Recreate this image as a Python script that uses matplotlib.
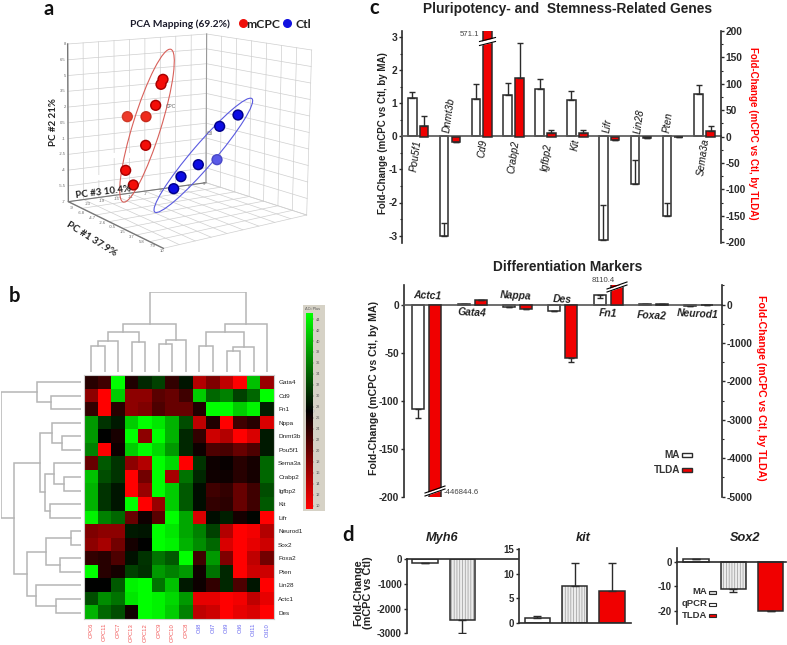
import numpy as np
import matplotlib
matplotlib.use('Agg')
import matplotlib.pyplot as plt
from matplotlib.colors import LinearSegmentedColormap, Normalize
from matplotlib.cm import ScalarMappable
from matplotlib.patches import Ellipse, Rectangle
from matplotlib.ticker import MultipleLocator

W, H = 787, 645
plt.rcParams['font.family'] = ['Liberation Sans', 'DejaVu Sans']
plt.rcParams['hatch.linewidth'] = 0.5

# a: PCA points as seen on the projected picture
pca_red_x = [489, 483, 467, 438, 382, 437, 377, 400]
pca_red_y = [238, 253, 316, 350, 350, 436, 511, 555]
pca_blue_x = [714, 659, 651, 595, 543, 521]
pca_blue_y = [345, 379, 479, 494, 530, 566]

# b: heatmap, -1 red to +1 green
genes = ['Gata4', 'Cd9', 'Fn1', 'Nppa', 'Dnmt3b', 'Pou5f1', 'Sema3a', 'Crabp2', 'Igfbp2',
         'Kit', 'Lifr', 'Neurod1', 'Sox2', 'Foxa2', 'Pten', 'Lin28', 'Actc1', 'Des']
samples = ['CPC6', 'CPC11', 'CPC7', 'CPC13', 'CPC12', 'CPC9', 'CPC10', 'CPC8',
           'Ctl8', 'Ctl7', 'Ctl9', 'Ctl6', 'Ctl11', 'Ctl10']
heat = [
    [-.15, -.25, 1, -.12, .15, .25, -.2, .08, -.7, -.5, -.75, -1, .75, -.6],
    [-.55, -1, .8, -.55, -.55, -.35, -.4, -.25, .8, .4, .5, .25, .4, 1],
    [-.2, -1, -.15, -.55, -.5, -.3, -.4, -.4, -.12, 1, 1, .8, .95, .12],
    [.6, .2, .1, .8, 1, .9, .7, .3, -.75, -.12, -1, -.25, -.15, -.85],
    [.6, 0, -.1, 1, -.55, 1, .7, .15, -.2, -.8, -.7, -1, -.85, .1],
    [.5, -1, -.05, .8, 1, .85, .6, .15, -.05, -.3, -.28, -.4, -.3, .1],
    [-.4, .35, .2, -.55, -.7, 1, .85, -1, .2, -.05, -.03, -.15, -.08, .4],
    [.75, .3, .2, -1, -.45, 1, -.65, .45, .15, -.06, -.05, -.15, -.08, .4],
    [.7, .2, .08, -1, -.6, 1, .8, .35, .05, -.25, -.2, -.4, -.25, .3],
    [.7, .2, .08, 1, -1, -.6, .8, .35, .05, -.2, -.17, -.4, -.25, .35],
    [.95, .5, .4, -.4, -.06, -.35, 1, .65, -.85, .05, .12, -.08, .02, -1],
    [-.5, -.55, -.55, .1, .08, 1, .9, .65, .5, .25, -.7, -1, -.95, -.7],
    [-.55, -.65, -.45, -.08, 0, 1, .95, .7, .55, .4, -.85, -1, -.9, -.8],
    [-.2, -.15, -.3, .07, .2, .45, .35, 1, -.25, .6, -.5, -1, -.75, -.45],
    [1, -.15, -.08, .25, .18, .6, .5, .6, -.07, .45, .15, -1, -.8, -.8],
    [0, 0, .35, .95, 1, .45, .75, .1, -.05, -.2, .15, -.3, .08, -1],
    [.3, .55, .45, .9, 1, .95, .85, .6, -.9, -.9, -1, -.95, -.75, -.9],
    [.7, .4, .3, -.07, 1, .95, .8, .5, -.75, -.8, -1, -.9, -.85, -1],
]
# dendrograms: (child, child, height); children >= n are earlier merges
col_merges = [(0, 1, 26), (14, 2, 31), (3, 4, 30), (15, 16, 40), (5, 6, 28), (18, 7, 32),
              (17, 19, 48), (8, 9, 26), (10, 11, 21), (22, 12, 25), (21, 23, 40),
              (24, 13, 48), (20, 25, 80)]
row_merges = [(1, 2, 30), (0, 18, 44), (4, 5, 19), (3, 20, 29), (7, 8, 17), (6, 22, 27),
              (9, 10, 31), (23, 24, 36), (21, 25, 41), (11, 12, 10), (13, 14, 21),
              (27, 28, 35), (16, 17, 25), (15, 30, 45), (29, 31, 54), (26, 32, 67),
              (19, 33, 80)]

# c: pluripotency genes
c_genes = ['Pou5f1', 'Dnmt3b', 'Cd9', 'Crabp2', 'Igfbp2', 'Kit', 'Lifr', 'Lin28', 'Pten', 'Sema3a']
c_ma = [1.17, -3.0, 1.13, 1.24, 1.44, 1.09, -3.13, -1.45, -2.4, 1.28]
c_ma_tip = [1.33, -2.63, 1.58, 1.6, 1.73, 1.36, -2.08, -0.71, -2.0, 1.55]
c_tlda = [20, -11, 571.1, 110, 7, 6, -7, -3, -1, 11]
c_tlda_tip = [39, -11, 571.1, 178, 13, 12, -7, -3, -1, 20]

# c: differentiation markers
m_genes = ['Actc1', 'Gata4', 'Nappa', 'Des', 'Fn1', 'Foxa2', 'Neurod1']
m_ma = [-109, 1, -2.5, -6.5, 10, 1, -1]
m_ma_tip = [-118, 1, -2.5, -7, 7, 1, -1]
m_tlda = [-446844.6, 130, -100, -1380, 8110.4, 20, -20]
m_tlda_tip = [-446844.6, 130, -100, -1480, 8110.4, 20, -20]

# d
myh6_vals = [-170, -2450]
myh6_tip = [-170, -3000]
kit_vals = [1.1, 7.4, 6.4]
kit_tip = [1.35, 12.2, 12.2]
sox2_vals = [1.2, -11, -20]
sox2_tip = [1.2, -12.5, -20.3]

fig = plt.figure(figsize=(W / 100, H / 100), dpi=100)
DARK = '#2b2b2b'


def px_axes(left, top, right, bottom, **kw):
    return fig.add_axes([left / W, 1 - bottom / H, (right - left) / W, (bottom - top) / H], **kw)


def tip_err(vals, tips):
    vals, tips = np.array(vals, float), np.array(tips, float)
    return [np.maximum(vals - tips, 0), np.maximum(tips - vals, 0)]


def clean(ax, keep):
    for name, sp in ax.spines.items():
        sp.set_visible(name in keep)
        sp.set_linewidth(1.2)
        sp.set_color(DARK)
    ax.patch.set_alpha(0)
    ax.set_xticks([])


def tick_style(ax, size=7):
    ax.tick_params(axis='y', which='major', length=2.4, width=1, labelsize=size, pad=1, color=DARK,
                   labelcolor=DARK)
    ax.tick_params(axis='y', which='minor', length=1.5, width=0.8, color=DARK)
    for t in ax.get_yticklabels():
        t.set_fontweight('bold')


# overlay in reference pixels, for the loose text and small marks
ov = px_axes(0, 0, W, H)
ov.set_xlim(0, W)
ov.set_ylim(H, 0)
ov.axis('off')
ov.set_zorder(10)


def label(x, y, s, size=7, **kw):
    kw.setdefault('ha', 'center')
    kw.setdefault('va', 'center')
    ov.text(x, y, s, fontsize=size, **kw)


for x, y, s in [(49, 15, 'a'), (15, 302.5, 'b'), (374, 14, 'c'), (348, 541, 'd')]:
    label(x, y, s, size=14.5, family='Lato', fontweight='bold', color='#111111', va='baseline')


# panel a ------------------------------------------------------------
ax_a = px_axes(0, 0, 340, 280)
ax_a.set_xlim(0, 1020)
ax_a.set_ylim(840, 0)
ax_a.axis('off')


def wall(c00, c10, c11, c01, nu, nv):
    c00, c10, c11, c01 = [np.array(c, float) for c in (c00, c10, c11, c01)]
    for u in np.linspace(0, 1, nu + 1):
        a, b = c00 + (c10 - c00) * u, c01 + (c11 - c01) * u
        ax_a.plot([a[0], b[0]], [a[1], b[1]], color='#cfcfcf', lw=0.5, zorder=1)
    for v in np.linspace(0, 1, nv + 1):
        a, b = c00 + (c01 - c00) * v, c10 + (c11 - c10) * v
        ax_a.plot([a[0], b[0]], [a[1], b[1]], color='#cfcfcf', lw=0.5, zorder=1)


wall((203, 132), (620, 102), (618, 548), (205, 605), 9, 10)
wall((620, 102), (935, 150), (920, 645), (618, 548), 7, 10)
wall((205, 605), (618, 548), (920, 645), (490, 745), 9, 7)
ax_a.plot([203, 205, 490], [132, 605, 745], color='#777777', lw=1, zorder=2)
ax_a.plot([205, 618], [605, 548], color='#777777', lw=0.8, zorder=2)
ax_a.plot([620, 618], [102, 548], color='#999999', lw=0.8, zorder=2)

for y, s in zip(np.linspace(132, 605, 11), ['8', '6.5', '5', '3.5', '2', '0.5', '-1', '-2.5', '-4', '-5.5', '-7']):
    ax_a.text(197, y, s, fontsize=3, color='#666666', ha='right', va='center')
for t, s in zip(np.linspace(0, 1, 10), ['-9', '-6.8', '-4.7', '-2.6', '-0.5', '1.5', '3.7', '5.8', '7.9', '10']):
    ax_a.text(215 + 272 * t, 625 + 128 * t, s, fontsize=3, color='#666666', ha='center', va='center')
for t, s in zip(np.linspace(0, 1, 9), ['-23', '-19', '-15', '-11', '-7', '-3', '1', '5', '9']):
    ax_a.text(262 + 350 * t, 612 - 60 * t, s, fontsize=3, color='#666666', ha='center', va='center')

ax_a.add_patch(Ellipse((441, 377), 480, 84, angle=-72.7, fill=False, ec='#d8605a', lw=0.8, zorder=3))
ax_a.add_patch(Ellipse((610, 466), 448, 68, angle=-49.4, fill=False, ec='#5a5ae0', lw=0.8, zorder=3))
ax_a.add_patch(Rectangle((335, 458), 55, 16, fc='white', ec='none', zorder=2))
ax_a.add_patch(Rectangle((265, 525), 40, 16, fc='white', ec='none', zorder=2))
ax_a.text(513, 321, 'CPC', fontsize=3.5, color='#666666', ha='center', va='center', zorder=3)
ax_a.text(628, 400, 'Ctl', fontsize=3.5, color='#666666', ha='center', va='center', zorder=3)

red_edge = ['#a80000', '#a80000', '#a80000', '#c82a1c', '#d03a28', '#a80000', '#a80000', '#a80000']
red_fill = ['#f40d08', '#f40d08', '#f40d08', '#f02a1c', '#ee3a2a', '#f40d08', '#f40d08', '#f40d08']
blue_edge = ['#00008a', '#00008a', '#4a4ac8', '#00008a', '#00008a', '#00008a']
blue_fill = ['#0c0ce4', '#0c0ce4', '#5a5ae8', '#0c0ce4', '#0c0ce4', '#0c0ce4']
ax_a.scatter(pca_red_x, pca_red_y, s=66, c=red_edge, linewidths=0, zorder=4)
ax_a.scatter(pca_red_x, pca_red_y, s=36, c=red_fill, linewidths=0, zorder=5)
ax_a.scatter(pca_blue_x, pca_blue_y, s=66, c=blue_edge, linewidths=0, zorder=4)
ax_a.scatter(pca_blue_x, pca_blue_y, s=36, c=blue_fill, linewidths=0, zorder=5)

label(180, 24, 'PCA Mapping (69.2%)', size=7.4, family='Lato', fontweight='bold', color='#1a1a2a')
ov.scatter([242.5], [23.3], s=30, c='#ee0f0a')
label(263, 24, 'mCPC', size=8.8, family='Lato', fontweight='bold', color='#222222')
ov.scatter([287], [23.3], s=30, c='#1010e0')
label(303, 24, 'Ctl', size=8.8, family='Lato', fontweight='bold', color='#222222')
label(53, 122, 'PC #2 21%', size=7, rotation=90, family='Lato', fontweight='bold', color='#222222')
label(103, 192, 'PC #3 10.4%', size=7, rotation=7, family='Lato', fontweight='bold', color='#222222')
label(92, 239, 'PC #1 37.9%', size=7.2, rotation=-32, family='Lato', fontweight='bold', color='#222222')

# panel b ------------------------------------------------------------
rgb = LinearSegmentedColormap.from_list('rgb', ['#ff0000', '#000000', '#00ff00'])
ax_h = px_axes(84.3, 375.3, 274, 619.3)
ax_h.imshow(np.array(heat), cmap=rgb, vmin=-1, vmax=1, aspect='auto', interpolation='nearest')
ax_h.set_xticks(range(len(samples)))
ax_h.set_xticklabels(samples, rotation=90, fontsize=4.2)
for t, s in zip(ax_h.get_xticklabels(), samples):
    t.set_color('#f25a5a' if s.startswith('CPC') else '#6a6af0')
ax_h.yaxis.tick_right()
ax_h.set_yticks(range(len(genes)))
ax_h.set_yticklabels(genes, fontsize=4.6, color='#222222')
ax_h.tick_params(axis='y', length=0, pad=3)
ax_h.tick_params(axis='x', length=0, pad=2.5)
for sp in ax_h.spines.values():
    sp.set_color('#cccccc')
    sp.set_linewidth(0.8)


def dendro(ax, merges, n, vertical):
    pos = {i: (i, 0.0) for i in range(n)}
    for k, (a, b, h) in enumerate(merges):
        pa, ha = pos[a]
        pb, hb = pos[b]
        xs, ys = [pa, pa, pb, pb], [ha, h, h, hb]
        if vertical:
            ax.plot(xs, ys, color='#b5b5b5', lw=1.1, solid_joinstyle='miter')
        else:
            ax.plot(ys, xs, color='#b5b5b5', lw=1.1, solid_joinstyle='miter')
        pos[n + k] = ((pa + pb) / 2, h)
    ax.axis('off')


ax_t = px_axes(84.3, 292, 274, 372.3)
dendro(ax_t, col_merges, len(samples), True)
ax_t.set_xlim(-0.5, len(samples) - 0.5)
ax_t.set_ylim(0, 80)
ax_l = px_axes(1.3, 375.3, 81.3, 619.3)
dendro(ax_l, row_merges, len(genes), False)
ax_l.set_xlim(80, 0)
ax_l.set_ylim(len(genes) - 0.5, -0.5)

ov.add_patch(Rectangle((302.7, 305), 22.6, 206, fc='#d6d2c6', ec='none', zorder=0))
label(313, 309, '\u0394Ct Plus', size=2.8, color='#555555')
cax = px_axes(306, 313, 313.3, 509)
cb = fig.colorbar(ScalarMappable(Normalize(9.4, 45.1), rgb), cax=cax)
cb.set_ticks(range(10, 46, 2))
cb.ax.tick_params(labelsize=2.8, length=1, width=0.3, pad=0.5, colors='#555555')
cb.outline.set_visible(False)
cax.set_zorder(11)
ov.add_patch(Rectangle((306, 409.5), 7.5, 2.8, fc='#eeeeee', ec='#999999', lw=0.3))

# panel c, top -------------------------------------------------------
label(568, 9, 'Pluripotency- and  Stemness-Related Genes', size=9.9, fontweight='bold', color='#222222')
gap_c = 31.83
ax_c = px_axes(402, 31, 721, 243)
pos_c = np.arange(len(c_genes))
ax_c.set_xlim((402 - 412.3) / gap_c, (721 - 412.3) / gap_c)
ax_c.bar(pos_c, c_ma, 0.27, color='white', edgecolor=DARK, linewidth=1.1)
ax_c.errorbar(pos_c, c_ma, yerr=tip_err(c_ma, c_ma_tip), fmt='none', ecolor=DARK, elinewidth=1, capsize=2)
ax_c.set_ylim(-(243 - 136.3) / 33.1, (136.3 - 31) / 33.1)
ax_c.set_yticks([-3, -2, -1, 0, 1, 2, 3])
ax_c.yaxis.set_minor_locator(MultipleLocator(0.5))
clean(ax_c, ['left', 'bottom'])
ax_c.spines['bottom'].set_position(('data', 0))
ax_c.spines['bottom'].set_color('#555555')
ax_c.set_yticklabels(['-3', '-2', '-1', '0', '1', '2', '3'])
tick_style(ax_c, size=7.4)

tw_c = ax_c.twinx()
tw_c.bar(pos_c + 0.37, c_tlda, 0.27, color='#f00000', edgecolor=DARK, linewidth=1.1)
tw_c.errorbar(pos_c + 0.37, c_tlda, yerr=tip_err(c_tlda, c_tlda_tip), fmt='none', ecolor=DARK, elinewidth=1, capsize=2)
tw_c.set_ylim(-(243 - 136.3) / 0.529, (136.3 - 31) / 0.529)
tw_c.set_yticks(range(-200, 201, 50))
tw_c.yaxis.set_minor_locator(MultipleLocator(25))
clean(tw_c, ['right'])
tw_c.set_yticklabels([str(v) for v in range(-200, 201, 50)])
tick_style(tw_c, size=7.4)


def break_mark(xc, yc, half=8, rise=4, gap=4):
    xs = np.array([xc - half, xc + half])
    ys = np.array([yc + rise / 2, yc - rise / 2])
    ov.fill_between(xs, ys - gap / 2, ys + gap / 2, color='white', lw=0)
    ov.plot(xs, ys - gap / 2, color='black', lw=0.8)
    ov.plot(xs, ys + gap / 2, color='black', lw=0.8)


break_mark(487.5, 41.5)
label(469, 34.5, '571.1', size=5.6, color='#444444')
for x, y, s in [(416, 156, 'Pou5f1'), (449, 115, 'Dnmt3b'), (483, 148, 'Cd9'), (514, 157, 'Crabp2'),
                (547, 157, 'Igfbp2'), (576, 145, 'Kit'), (608, 126, 'Lifr'), (639, 121, 'Lin28'),
                (668, 122, 'Pten'), (703, 157, 'Sema3a')]:
    label(x, y, s, size=7.2, style='italic', rotation=82, color='#111111')
label(383, 133, 'Fold-Change (mCPC vs Ctl, by MA)', size=7, rotation=90, fontweight='bold', color='#222222')
label(753, 133, 'Fold-Change (mCPC vs Ctl, by TLDA)', size=7, rotation=270, fontweight='bold', color='#ff0000')

# panel c, bottom ----------------------------------------------------
label(568, 267, 'Differentiation Markers', size=9.9, fontweight='bold', color='#222222')
gap_m = 45.33
ax_m = px_axes(404, 285, 722, 497)
pos_m = np.arange(len(m_genes))
ax_m.set_xlim((404 - 418.3) / gap_m, (722 - 418.3) / gap_m)
ax_m.bar(pos_m, m_ma, 0.265, color='white', edgecolor=DARK, linewidth=1.1)
ax_m.errorbar(pos_m, m_ma, yerr=tip_err(m_ma, m_ma_tip), fmt='none', ecolor=DARK, elinewidth=1, capsize=2.5)
ax_m.set_ylim(-(497 - 304.7) / 0.96, (304.7 - 285) / 0.96)
ax_m.set_yticks([-200, -150, -100, -50, 0])
clean(ax_m, ['left', 'bottom'])
ax_m.spines['bottom'].set_position(('data', 0))
ax_m.spines['bottom'].set_color('#555555')
ax_m.set_yticklabels(['-200', '-150', '-100', '-50', '0'])
tick_style(ax_m, size=7.4)

tw_m = ax_m.twinx()
tw_m.bar(pos_m + 0.375, m_tlda, 0.265, color='#f00000', edgecolor=DARK, linewidth=1.1)
tw_m.errorbar(pos_m + 0.375, m_tlda, yerr=tip_err(m_tlda, m_tlda_tip), fmt='none', ecolor=DARK, elinewidth=1, capsize=2.5)
tw_m.set_ylim(-(497 - 304.7) / 0.0384, (304.7 - 285) / 0.0384)
tw_m.set_yticks([-5000, -4000, -3000, -2000, -1000, 0])
tw_m.yaxis.set_minor_locator(MultipleLocator(500))
clean(tw_m, ['right'])
tw_m.set_yticklabels(['-5000', '-4000', '-3000', '-2000', '-1000', '0'])
tick_style(tw_m, size=7.4)

break_mark(435, 491, half=10, rise=7, gap=3)
break_mark(617, 287, half=10, rise=7, gap=3)
label(603, 281, '8110.4', size=5.6, color='#444444')
label(461, 493, '-446844.6', size=5.6, color='#444444')
for x, y, s in [(427, 296, 'Actc1'), (472, 313, 'Gata4'), (516, 296, 'Nappa'), (562, 299, 'Des'),
                (608, 313, 'Fn1'), (652, 316, 'Foxa2'), (698, 314, 'Neurod1')]:
    label(x, y, s, size=7.4, style='italic', fontweight='bold', color='#222222', rotation=-3)
label(374, 388, 'Fold-Change (mCPC vs Ctl, by MA)', size=7.6, rotation=90, fontweight='bold', color='#222222')
label(761, 388, 'Fold-Change (mCPC vs Ctl, by TLDA)', size=7.6, rotation=270, fontweight='bold', color='#ff0000')

label(680, 455, 'MA', size=7.2, ha='right', fontweight='bold', color='#333333')
label(680, 470, 'TLDA', size=7.2, ha='right', fontweight='bold', color='#333333')
ov.add_patch(Rectangle((682, 453), 10, 3.6, fc='white', ec=DARK, lw=1))
ov.add_patch(Rectangle((682, 468), 10, 3.6, fc='#f00000', ec=DARK, lw=1))

# panel d ------------------------------------------------------------
gap_d = 37.33


def d_bars(ax, vals, tips, cols):
    pos = np.arange(len(vals))
    for i, col in enumerate(cols):
        if col == 'lightgray':
            ax.bar(pos[i], vals[i], 0.68, color='#ececec', edgecolor='#9a9a9a', hatch='||||||', linewidth=0)
            ax.bar(pos[i], vals[i], 0.68, fill=False, edgecolor=DARK, linewidth=1.1)
        else:
            ax.bar(pos[i], vals[i], 0.68, color=col, edgecolor=DARK, linewidth=1.1)
    ax.errorbar(pos, vals, yerr=tip_err(vals, tips), fmt='none', ecolor=DARK, elinewidth=1, capsize=3.2)


ax_d1 = px_axes(406.7, 559, 518, 633.3)
d_bars(ax_d1, myh6_vals, myh6_tip, ['white', 'lightgray'])
ax_d1.set_xlim((406.7 - 425) / gap_d, (518 - 425) / gap_d)
ax_d1.set_ylim(-3000, 0)
ax_d1.set_yticks([-3000, -2000, -1000, 0])
clean(ax_d1, ['left', 'top'])
ax_d1.set_yticklabels(['-3000', '-2000', '-1000', '0'])
tick_style(ax_d1, size=7)

ax_d2 = px_axes(519, 549, 631, 623)
d_bars(ax_d2, kit_vals, kit_tip, ['white', 'lightgray', '#f00000'])
ax_d2.set_xlim((519 - 537.3) / gap_d, (631 - 537.3) / gap_d)
ax_d2.set_ylim(0, 15)
ax_d2.set_yticks([0, 5, 10, 15])
clean(ax_d2, ['left', 'bottom'])
ax_d2.set_yticklabels(['0', '5', '10', '15'])
tick_style(ax_d2, size=7)

ax_d3 = px_axes(676.7, 548.3, 786, 624)
d_bars(ax_d3, sox2_vals, sox2_tip, ['white', 'lightgray', '#f00000'])
ax_d3.set_xlim((676.7 - 696) / gap_d, (786 - 696) / gap_d)
ax_d3.set_ylim(-(624 - 561.7) / 2.45, (561.7 - 548.3) / 2.45)
ax_d3.set_yticks([-20, -10, 0])
clean(ax_d3, ['left', 'bottom'])
ax_d3.spines['bottom'].set_position(('data', 0))
ax_d3.set_yticklabels(['-20', '-10', '0'])
tick_style(ax_d3, size=7)

label(442, 538, 'Myh6', size=9.2, style='italic', fontweight='bold', color='#222222')
label(583, 538, 'kit', size=9.2, style='italic', fontweight='bold', color='#222222')
label(745, 538, 'Sox2', size=9.2, style='italic', fontweight='bold', color='#222222')
label(363, 593, 'Fold-Change\n(mCPC vs Ctl)', size=7.8, rotation=90, fontweight='bold', color='#222222', linespacing=1.0)

for y, s, col in [(592, 'MA', '#d8d8d8'), (604, 'qPCR', 'white'), (615.5, 'TLDA', '#f00000')]:
    label(707, y, s, size=6.8, ha='right', fontweight='bold', color='#333333')
    ov.add_patch(Rectangle((709, y - 1.5), 7, 3, fc=col, ec=DARK, lw=0.8))

fig.savefig('out.png', dpi=100)
